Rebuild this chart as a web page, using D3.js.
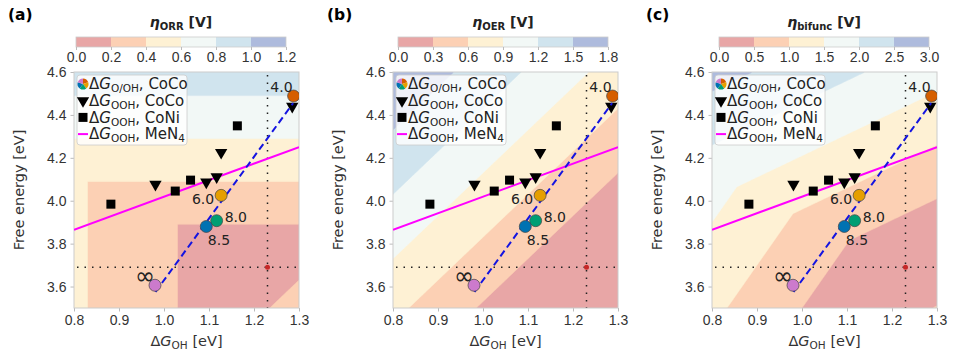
<!DOCTYPE html>
<html lang="en">
<head>
<meta charset="UTF-8">
<title>Overpotential maps</title>
<script src="https://cdn.jsdelivr.net/npm/d3@7"></script>
<style>
  body { margin: 0; background: #fff; }
  svg { font-family: "DejaVu Sans", sans-serif; }
  .tick text { fill: #333; font-size: 14px; }
  .tick line { stroke: #bbb; }
</style>
</head>
<body>
<svg id="chart" width="963" height="360"></svg>
<script>
// ---- data ----
var panelLetters = ["(a)", "(b)", "(c)"];
var etaNames = ["ORR", "OER", "bifunc"];
var etaTicksOrr = [0.0, 0.2, 0.4, 0.6, 0.8, 1.0, 1.2];
var etaTicksOer = [0.0, 0.3, 0.6, 0.9, 1.2, 1.5, 1.8];
var etaTicksBif = [0.0, 0.5, 1.0, 1.5, 2.0, 2.5, 3.0];
var bandColors = ["#e8a6a6", "#fcd0b4", "#fef1d4", "#f2f8f6", "#d0e4ee", "#aebbdd"];

var xTicks = [0.8, 0.9, 1.0, 1.1, 1.2, 1.3];
var yTicks = [3.6, 3.8, 4.0, 4.2, 4.4, 4.6];

// dG_OOH, CoCo (triangles)
var cocoX = [0.981, 1.094, 1.117, 1.127, 1.285];
var cocoY = [4.076, 4.087, 4.111, 4.225, 4.440];
// dG_OOH, CoNi (squares)
var coniX = [0.882, 1.025, 1.059, 1.163];
var coniY = [3.984, 4.045, 4.096, 4.349];
// dG_O/OH, CoCo (coloured circles, labelled)
var circLabels = ["4.0", "6.0", "8.0", "8.5", "\u221e"];
var circX = [1.288, 1.127, 1.117, 1.094, 0.980];
var circY = [4.488, 4.025, 3.907, 3.880, 3.606];
var circColors = ["#d55e00", "#e69f00", "#009e73", "#0072b2", "#cc7acc"];
// dashed fit through circles
var fitX = [0.981, 1.287];
var fitY = [3.575, 4.455];
// MeN4 scaling line
var menX = [0.8, 1.3];
var menY = [3.865, 4.250];
// ideal catalyst
var idealX = 1.23, idealY = 3.69;

// overpotential models (dG_O = 2 dG_OH)
function etaOrr(g1, g3) { return 1.23 - Math.min(4.92 - g3, g3 - 2 * g1, g1); }
function etaOer(g1, g3) { return Math.max(g1, g3 - 2 * g1, 4.92 - g3) - 1.23; }
function etaBif(g1, g3) { return etaOrr(g1, g3) + etaOer(g1, g3); }

var panels = [
  {left: 74, cbLeft: 76, ticks: etaTicksOrr, f: etaOrr},
  {left: 393, cbLeft: 398, ticks: etaTicksOer, f: etaOer},
  {left: 712, cbLeft: 719, ticks: etaTicksBif, f: etaBif}
];

var svg = d3.select("#chart");
var plotTop = 72, plotW = 225, plotH = 236;
var xDom = [0.8, 1.3], yDom = [3.5, 4.6];

panels.forEach(function(p, k) {
  var x = d3.scaleLinear().domain(xDom).range([0, plotW]);
  var y = d3.scaleLinear().domain(yDom).range([plotH, 0]);

  svg.append("text")
    .attr("x", p.left - 66).attr("y", 20)
    .style("font-size", "15.5px").style("font-weight", "bold")
    .text(panelLetters[k]);

  // colour bar
  var cbW = 210;
  var cb = svg.append("g").attr("transform", "translate(" + p.cbLeft + ",37)");
  var cbx = d3.scaleLinear().domain([p.ticks[0], p.ticks[p.ticks.length - 1]]).range([0, cbW]);
  cb.selectAll("rect.band").data(d3.range(p.ticks.length - 1)).enter().append("rect")
    .attr("x", function(i) { return cbx(p.ticks[i]); })
    .attr("width", function(i) { return cbx(p.ticks[i + 1]) - cbx(p.ticks[i]); })
    .attr("y", 0).attr("height", 10)
    .attr("fill", function(i) { return bandColors[i]; });
  cb.append("rect").attr("width", cbW).attr("height", 10)
    .attr("fill", "none").attr("stroke", "#ccc").attr("stroke-width", 0.8);
  cb.append("g").attr("transform", "translate(0,10)")
    .call(d3.axisBottom(cbx).tickValues(p.ticks).tickFormat(d3.format(".1f")).tickSize(3).tickPadding(2))
    .call(function(g) { g.select(".domain").remove(); });

  var title = svg.append("text")
    .attr("x", p.cbLeft + cbW / 2).attr("y", 27)
    .attr("text-anchor", "middle")
    .style("font-size", "14px").style("font-weight", "bold").attr("fill", "#222");
  title.append("tspan").style("font-style", "italic").text("\u03b7");
  title.append("tspan").attr("baseline-shift", "-25%").style("font-size", "10px").text(etaNames[k]);
  title.append("tspan").text(" [V]");

  var g = svg.append("g").attr("transform", "translate(" + p.left + "," + plotTop + ")");
  var clipId = "clip" + k;
  g.append("clipPath").attr("id", clipId).append("rect").attr("width", plotW).attr("height", plotH);

  // filled contour background
  var nx = plotW, ny = plotH;
  var vals = new Array(nx * ny);
  for (var j = 0; j < ny; j++) {
    for (var i = 0; i < nx; i++) {
      var gx = x.invert(i + 0.5), gy = y.invert(j + 0.5);
      vals[j * nx + i] = p.f(gx, gy);
    }
  }
  var levels = p.ticks.slice(0, p.ticks.length - 1);
  levels[0] = -10;
  var contours = d3.contours().size([nx, ny]).thresholds(levels)(vals);
  var bg = g.append("g").attr("clip-path", "url(#" + clipId + ")");
  bg.selectAll("path").data(contours).enter().append("path")
    .attr("d", d3.geoPath())
    .attr("fill", function(d, i) { return bandColors[i]; })
    .attr("stroke", function(d, i) { return bandColors[i]; })
    .attr("stroke-width", 0.6);

  // axes
  g.append("g").attr("transform", "translate(0," + plotH + ")")
    .call(d3.axisBottom(x).tickValues(xTicks).tickFormat(d3.format(".1f")).tickSize(3.5).tickPadding(4))
    .call(function(a) { a.select(".domain").remove(); });
  g.append("g")
    .call(d3.axisLeft(y).tickValues(yTicks).tickFormat(d3.format(".1f")).tickSize(3.5).tickPadding(4))
    .call(function(a) { a.select(".domain").remove(); });
  g.append("rect").attr("width", plotW).attr("height", plotH)
    .attr("fill", "none").attr("stroke", "#ccc").attr("stroke-width", 1);

  var xl = g.append("text").attr("x", plotW / 2).attr("y", plotH + 38)
    .attr("text-anchor", "middle").style("font-size", "14.5px").attr("fill", "#333");
  xl.append("tspan").text("\u0394");
  xl.append("tspan").style("font-style", "italic").text("G");
  xl.append("tspan").attr("baseline-shift", "-25%").style("font-size", "10.5px").text("OH");
  xl.append("tspan").text(" [eV]");

  g.append("text").attr("transform", "translate(-50," + plotH / 2 + ") rotate(-90)")
    .attr("text-anchor", "middle").style("font-size", "14.5px").attr("fill", "#333")
    .text("Free energy [eV]");

  var plot = g.append("g").attr("clip-path", "url(#" + clipId + ")");

  // guide lines at ideal catalyst
  plot.append("line").attr("x1", x(idealX)).attr("x2", x(idealX)).attr("y1", 0).attr("y2", plotH)
    .attr("stroke", "#222").attr("stroke-width", 1.5).attr("stroke-dasharray", "1.5,6").attr("stroke-dashoffset", -3);
  plot.append("line").attr("x1", 0).attr("x2", plotW).attr("y1", y(idealY)).attr("y2", y(idealY))
    .attr("stroke", "#222").attr("stroke-width", 1.5).attr("stroke-dasharray", "1.5,6").attr("stroke-dashoffset", -3);
  plot.append("circle").attr("cx", x(idealX)).attr("cy", y(idealY)).attr("r", 2.5).attr("fill", "#c62828");

  var line = d3.line().x(function(d) { return x(d[0]); }).y(function(d) { return y(d[1]); });
  plot.append("path").datum(d3.zip(menX, menY)).attr("d", line)
    .attr("stroke", "#ff00ff").attr("stroke-width", 2).attr("fill", "none");

  // triangles and squares
  var tri = d3.symbol().type(d3.symbolTriangle).size(66);
  plot.selectAll("path.tri").data(d3.zip(cocoX, cocoY)).enter().append("path")
    .attr("class", "tri").attr("d", tri)
    .attr("transform", function(d) { return "translate(" + x(d[0]) + "," + y(d[1]) + ") rotate(180)"; })
    .attr("fill", "#000");
  plot.selectAll("rect.sq").data(d3.zip(coniX, coniY)).enter().append("rect")
    .attr("class", "sq")
    .attr("x", function(d) { return x(d[0]) - 4.5; })
    .attr("y", function(d) { return y(d[1]) - 4.5; })
    .attr("width", 9).attr("height", 9).attr("fill", "#000");

  plot.append("path").datum(d3.zip(fitX, fitY)).attr("d", line)
    .attr("stroke", "#1414e0").attr("stroke-width", 2).attr("stroke-dasharray", "7,4").attr("fill", "none");

  plot.selectAll("circle.pt").data(d3.range(circX.length)).enter().append("circle")
    .attr("class", "pt")
    .attr("cx", function(i) { return x(circX[i]); })
    .attr("cy", function(i) { return y(circY[i]); })
    .attr("r", 6)
    .attr("fill", function(i) { return circColors[i]; })
    .attr("stroke", "#444").attr("stroke-width", 0.7);

  // labels for circles: [dx, dy, anchor, size]
  var labelPos = [[-1, -8.5, "end", 14], [-7, 3.5, "end", 14], [8, -4, "start", 14], [1.5, 14, "start", 14], [0, -10, "end", 24]];
  g.selectAll("text.lab").data(d3.range(circX.length)).enter().append("text")
    .attr("class", "lab")
    .attr("x", function(i) { return x(circX[i]) + labelPos[i][0]; })
    .attr("y", function(i) { return y(circY[i]) + labelPos[i][1]; })
    .attr("dy", "0.35em")
    .attr("text-anchor", function(i) { return labelPos[i][2]; })
    .style("font-size", function(i) { return labelPos[i][3] + "px"; })
    .attr("fill", "#222")
    .text(function(i) { return circLabels[i]; });

  // legend
  var lg = g.append("g").attr("transform", "translate(3,3)");
  lg.append("rect").attr("width", 110).attr("height", 70).attr("rx", 3)
    .attr("fill", "rgba(255,255,255,0.8)").attr("stroke", "#ccc").attr("stroke-width", 0.8);
  var rows = [
    {sub: "O/OH", rest: ", CoCo"},
    {sub: "OOH", rest: ", CoCo"},
    {sub: "OOH", rest: ", CoNi"},
    {sub: "OOH", rest: ", MeN", sub2: "4"}
  ];
  rows.forEach(function(r, i) {
    var cy = 9 + i * 16.7;
    if (i === 0) {
      var pie = d3.pie().sort(null)(circColors.map(function() { return 1; }));
      var arc = d3.arc().innerRadius(0).outerRadius(5.5);
      lg.append("g").attr("transform", "translate(6," + cy + ")")
        .selectAll("path").data(pie).enter().append("path")
        .attr("d", arc).attr("fill", function(d, m) { return circColors[m]; });
    } else if (i === 1) {
      lg.append("path").attr("d", tri).attr("transform", "translate(6," + cy + ") rotate(180)").attr("fill", "#000");
    } else if (i === 2) {
      lg.append("rect").attr("x", 1.5).attr("y", cy - 4.5).attr("width", 9).attr("height", 9).attr("fill", "#000");
    } else {
      lg.append("line").attr("x1", 1).attr("x2", 11).attr("y1", cy).attr("y2", cy)
        .attr("stroke", "#ff00ff").attr("stroke-width", 2);
    }
    var t = lg.append("text").attr("x", 12).attr("y", cy).attr("dy", "0.35em")
      .style("font-size", "15px").attr("fill", "#222");
    t.append("tspan").text("\u0394");
    t.append("tspan").style("font-style", "italic").text("G");
    t.append("tspan").attr("baseline-shift", "-25%").style("font-size", "10.5px").text(r.sub);
    t.append("tspan").text(r.rest);
    if (r.sub2) t.append("tspan").attr("baseline-shift", "-25%").style("font-size", "10.5px").text(r.sub2);
  });
});
</script>
</body>
</html>
